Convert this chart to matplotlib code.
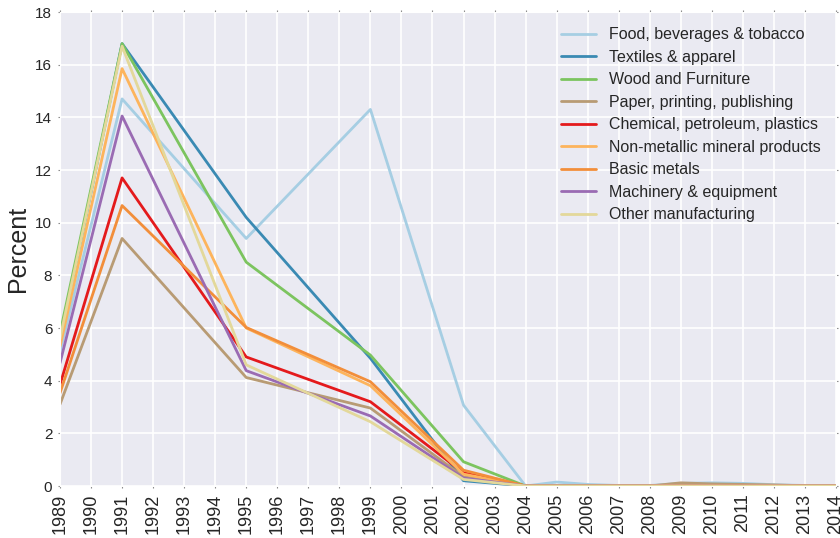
import matplotlib
matplotlib.use("Agg")
import matplotlib.pyplot as plt
import seaborn as sns

# years with data
years = [1989, 1991, 1995, 1999, 2002, 2004, 2005, 2006, 2007, 2008,
         2009, 2010, 2011, 2012, 2013, 2014]

food = [5.1, 14.7, 9.4, 14.3, 3.07, 0.0, 0.15, 0.06, 0.02, 0.02, 0.1, 0.12, 0.1, 0.05, 0.02, 0.0]
textiles = [5.5, 16.8, 10.2, 4.85, 0.2, 0.0, 0.0, 0.0, 0.0, 0.0, 0.0, 0.0, 0.0, 0.0, 0.0, 0.0]
wood = [5.8, 16.8, 8.5, 4.97, 0.92, 0.0, 0.0, 0.0, 0.0, 0.0, 0.02, 0.02, 0.01, 0.0, 0.0, 0.0]
paper = [3.1, 9.4, 4.12, 2.96, 0.35, 0.0, 0.0, 0.0, 0.0, 0.0, 0.12, 0.08, 0.06, 0.04, 0.01, 0.0]
chemical = [3.85, 11.7, 4.9, 3.2, 0.5, 0.0, 0.0, 0.0, 0.0, 0.0, 0.02, 0.02, 0.01, 0.0, 0.0, 0.0]
nonmetal = [5.3, 15.85, 6.0, 3.81, 0.45, 0.0, 0.0, 0.0, 0.0, 0.0, 0.01, 0.01, 0.0, 0.0, 0.0, 0.0]
basic = [3.53, 10.65, 6.02, 3.96, 0.6, 0.0, 0.0, 0.0, 0.0, 0.0, 0.0, 0.0, 0.0, 0.0, 0.0, 0.0]
machinery = [4.67, 14.05, 4.38, 2.66, 0.3, 0.0, 0.0, 0.0, 0.0, 0.0, 0.0, 0.0, 0.0, 0.0, 0.0, 0.0]
other = [5.6, 16.7, 4.6, 2.44, 0.25, 0.0, 0.0, 0.0, 0.0, 0.0, 0.0, 0.0, 0.0, 0.0, 0.0, 0.0]

labels = ["Food, beverages & tobacco", "Textiles & apparel", "Wood and Furniture",
          "Paper, printing, publishing", "Chemical, petroleum, plastics",
          "Non-metallic mineral products", "Basic metals",
          "Machinery & equipment", "Other manufacturing"]
series = [food, textiles, wood, paper, chemical, nonmetal, basic, machinery, other]
colors = ["#a6cee3", "#3a8ab3", "#7cc45f", "#b89b74", "#e41a1c",
          "#fdb45c", "#f28e3a", "#9a6bb3", "#e3d89a"]

sns.set_style("darkgrid")
plt.rcParams['font.family'] = ['Liberation Sans', 'DejaVu Sans']

fig = plt.figure(figsize=(8.4, 5.38), dpi=100)
ax = fig.add_axes([60 / 840, 1 - 486 / 538, 776 / 840, 474 / 538])

for vals, lab, col in zip(series, labels, colors):
    ax.plot(years, vals, color=col, lw=2, label=lab)

ax.set_xlim(1989, 2014)
ax.set_ylim(0, 18)
ax.set_xticks(range(1989, 2015))
ax.set_xticklabels([str(y) for y in range(1989, 2015)], rotation=90, fontsize=13)
ax.set_yticks(range(0, 19, 2))
ax.tick_params(axis='y', labelsize=11)
ax.tick_params(axis='both', which='major', length=1.5, width=0.8, color="#888888",
               labelcolor="#262626", pad=4, bottom=True, left=True, top=True, right=True)
ax.set_ylabel("Percent", fontsize=18)
ax.grid(color="white", lw=1.2)

ax.legend(loc="upper right", frameon=False, fontsize=11.5, handlelength=2.2,
          handletextpad=0.8, labelspacing=0.47, borderaxespad=0.55)

fig.savefig("out.png", dpi=100)
